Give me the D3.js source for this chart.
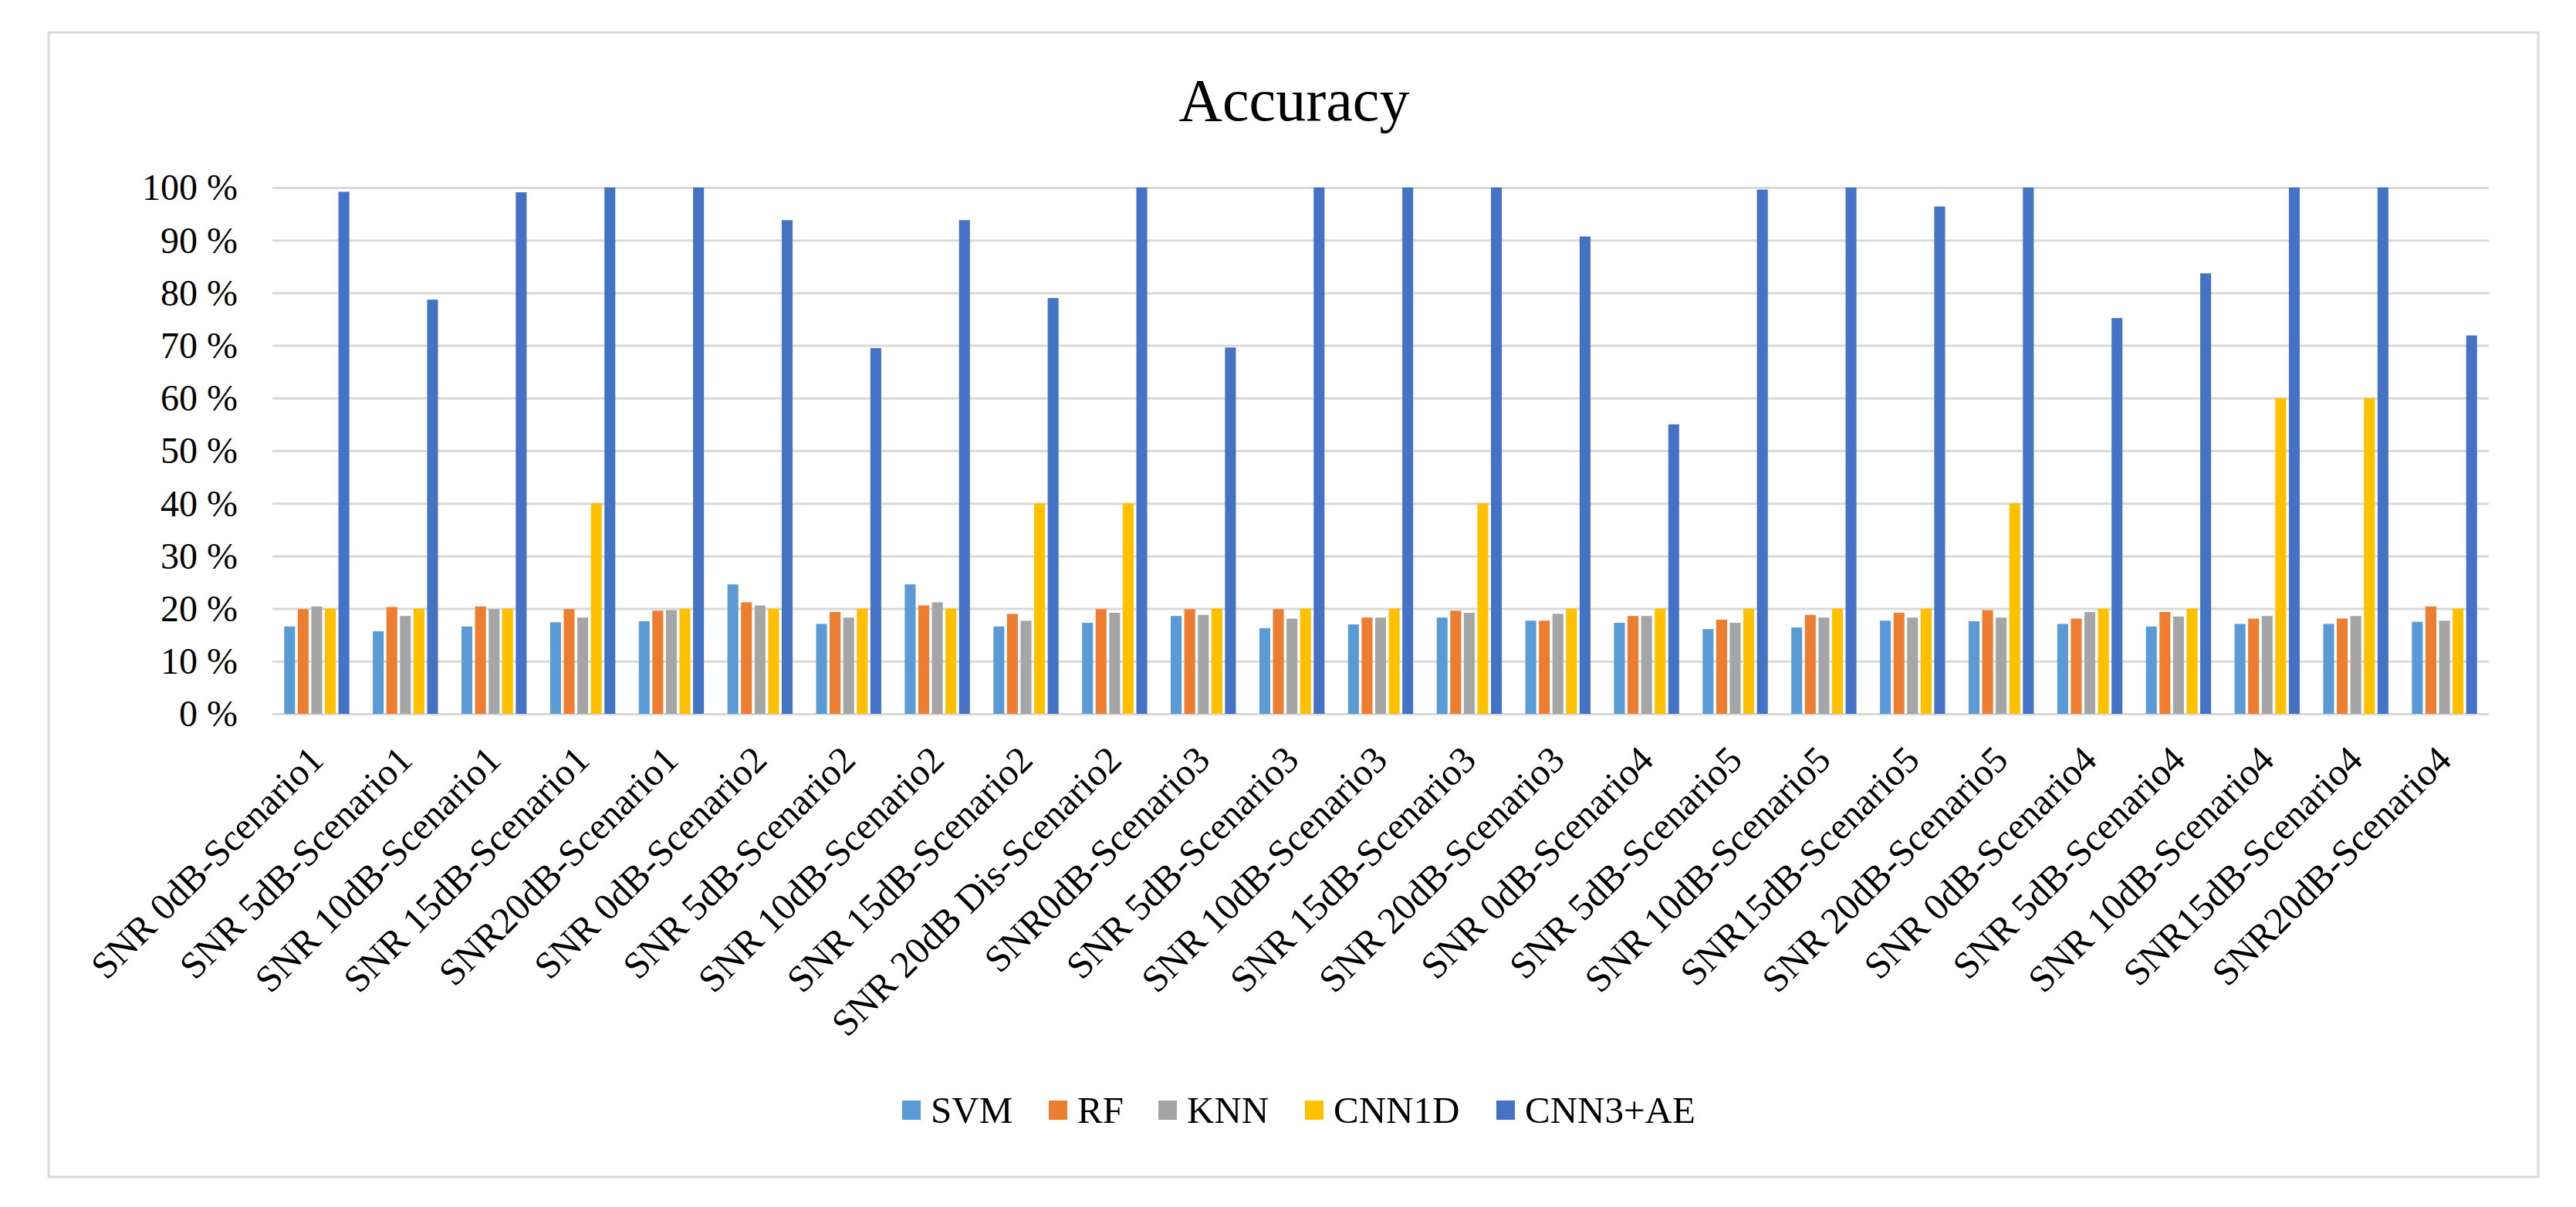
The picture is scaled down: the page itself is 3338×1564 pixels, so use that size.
<!DOCTYPE html>
<html>
<head>
<meta charset="utf-8">
<script src="https://cdn.jsdelivr.net/npm/d3@7"></script>
<style>
  body { margin: 0; background: #ffffff; }
  text { font-family: "Liberation Serif", "Times New Roman", serif; fill: #000000; }
</style>
</head>
<body>
<div id="chartContainer"></div>
<script>
// chart data
const categories = [
  "SNR 0dB-Scenario1", "SNR 5dB-Scenario1", "SNR 10dB-Scenario1", "SNR 15dB-Scenario1", "SNR20dB-Scenario1",
  "SNR 0dB-Scenario2", "SNR 5dB-Scenario2", "SNR 10dB-Scenario2", "SNR 15dB-Scenario2", "SNR 20dB Dis-Scenario2",
  "SNR0dB-Scenario3", "SNR 5dB-Scenario3", "SNR 10dB-Scenario3", "SNR 15dB-Scenario3", "SNR 20dB-Scenario3",
  "SNR 0dB-Scenario4", "SNR 5dB-Scenario5", "SNR 10dB-Scenario5", "SNR15dB-Scenario5", "SNR 20dB-Scenario5",
  "SNR 0dB-Scenario4", "SNR 5dB-Scenario4", "SNR 10dB-Scenario4", "SNR15dB-Scenario4", "SNR20dB-Scenario4"
];
const series = ["SVM", "RF", "KNN", "CNN1D", "CNN3+AE"];

const svm = [16.6, 15.7, 16.6, 17.4, 17.6, 24.6, 17.1, 24.6, 16.6, 17.3, 18.6, 16.3, 17.0,
             18.3, 17.7, 17.3, 16.1, 16.4, 17.7, 17.6, 17.1, 16.6, 17.1, 17.1, 17.5];
const rf = [19.9, 20.3, 20.4, 19.9, 19.6, 21.2, 19.35, 20.6, 19.0, 19.9, 19.9, 19.9, 18.3,
            19.6, 17.7, 18.6, 17.9, 18.8, 19.2, 19.7, 18.1, 19.35, 18.1, 18.1, 20.4];
const knn = [20.4, 18.6, 19.9, 18.3, 19.7, 20.6, 18.3, 21.2, 17.7, 19.2, 18.8, 18.1, 18.3,
             19.2, 19.0, 18.6, 17.3, 18.3, 18.3, 18.3, 19.35, 18.5, 18.6, 18.6, 17.7];
const cnn1d = [20, 20, 20, 40, 20, 20, 20, 20, 40, 40, 20, 20, 20,
               40, 20, 20, 20, 20, 20, 40, 20, 20, 60, 60, 20];
const cnn3ae = [99.2, 78.7, 99.1, 100, 100, 93.8, 69.5, 93.8, 79.0, 100, 69.6, 100, 100,
                100, 90.7, 55.0, 99.6, 100, 96.4, 100, 75.2, 83.7, 100, 100, 71.9];
const yTicks = [0, 10, 20, 30, 40, 50, 60, 70, 80, 90, 100];

const seriesValues = [svm, rf, knn, cnn1d, cnn3ae];
const seriesColors = ["#5B9BD5", "#ED7D31", "#A5A5A5", "#FFC000", "#4472C4"];

// layout
let BOX_WIDTH = 3338;
let BOX_HEIGHT = 1564;
let PLOT_LEFT = 353;
let PLOT_RIGHT = 3225;
let PLOT_TOP = 243;
let PLOT_BOTTOM = 925;
let GRID_COLOR = "#d9d9d9";

const svg = d3.select("#chartContainer")
    .append("svg")
    .attr("width", BOX_WIDTH)
    .attr("height", BOX_HEIGHT);

// chart border
svg.append("rect")
    .attr("x", 63)
    .attr("y", 42)
    .attr("width", 3289 - 63)
    .attr("height", 1525 - 42)
    .attr("fill", "#ffffff")
    .attr("stroke", GRID_COLOR)
    .attr("stroke-width", 3);

svg.append("text")
    .attr("x", 1677)
    .attr("y", 156)
    .attr("text-anchor", "middle")
    .attr("font-size", 78)
    .text("Accuracy");

const xScale = d3.scaleBand()
    .domain(d3.range(categories.length))
    .range([PLOT_LEFT, PLOT_RIGHT]);

const xInner = d3.scaleBand()
    .domain(series)
    .range([-42.2, 42.2])
    .paddingInner(0.2);

const yScale = d3.scaleLinear()
    .domain([0, 100])
    .range([PLOT_BOTTOM, PLOT_TOP]);

// y axis with gridlines
const yAxis = d3.axisLeft(yScale)
    .tickValues(yTicks)
    .tickSize(-(PLOT_RIGHT - PLOT_LEFT))
    .tickPadding(45)
    .tickFormat(d => d + " %");

const yG = svg.append("g")
    .attr("transform", `translate(${PLOT_LEFT}, 0)`)
    .call(yAxis);
yG.select(".domain").remove();
yG.selectAll(".tick line")
    .attr("stroke", GRID_COLOR)
    .attr("stroke-width", 3);
yG.selectAll(".tick text")
    .attr("font-size", 48)
    .attr("font-family", "Liberation Serif, Times New Roman, serif")
    .attr("fill", "#000")
    .attr("dy", "0.33em");

// bars
seriesValues.forEach((vals, si) => {
    svg.append("g")
        .selectAll("rect")
        .data(vals)
        .join("rect")
        .attr("x", (d, i) => xScale(i) + xScale.bandwidth() / 2 + xInner(series[si]))
        .attr("y", d => yScale(d))
        .attr("width", xInner.bandwidth())
        .attr("height", d => yScale(0) - yScale(d))
        .attr("fill", seriesColors[si]);
});

// category axis
const xAxis = d3.axisBottom(xScale)
    .tickSize(0)
    .tickFormat(i => categories[i]);

const xG = svg.append("g")
    .attr("transform", `translate(0, ${PLOT_BOTTOM})`)
    .call(xAxis);
xG.select(".domain").remove();
xG.selectAll(".tick text")
    .attr("font-size", 49)
    .attr("font-family", "Liberation Serif, Times New Roman, serif")
    .attr("fill", "#000")
    .attr("text-anchor", "end")
    .attr("x", 0)
    .attr("y", 0)
    .attr("dy", "0.33em")
    .attr("transform", "translate(0, 51) rotate(-45)");

// legend
const legendX = [1169, 1359, 1501, 1691, 1939];
const legend = svg.append("g");
series.forEach((name, si) => {
    legend.append("rect")
        .attr("x", legendX[si])
        .attr("y", 1426)
        .attr("width", 24)
        .attr("height", 25)
        .attr("fill", seriesColors[si]);
    legend.append("text")
        .attr("x", legendX[si] + 37)
        .attr("y", 1439)
        .attr("dy", "0.33em")
        .attr("font-size", 49)
        .text(name);
});
</script>
</body>
</html>
